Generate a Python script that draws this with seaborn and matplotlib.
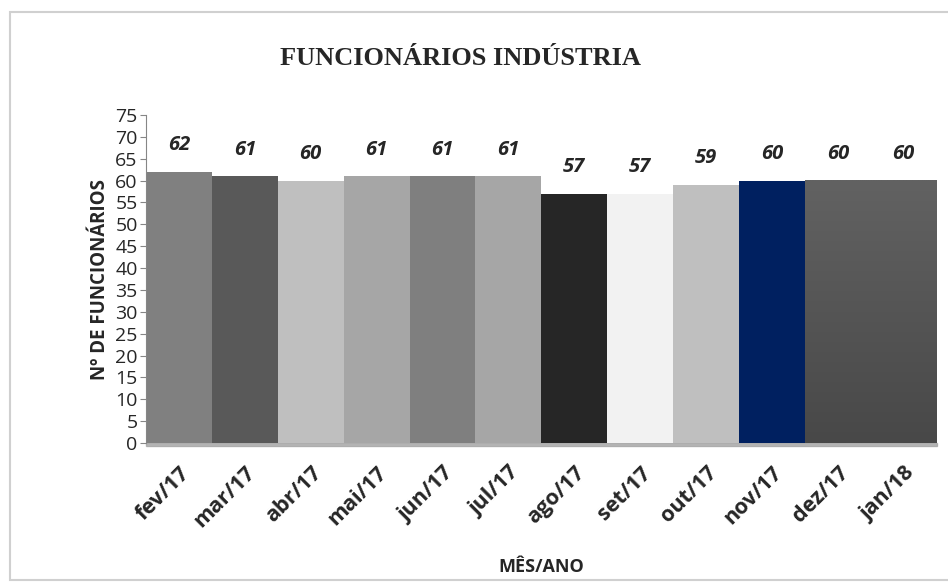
import numpy as np
import pandas as pd
import matplotlib
matplotlib.use("Agg")
import matplotlib.pyplot as plt
from matplotlib.colors import LinearSegmentedColormap
from matplotlib.patches import Rectangle
import seaborn as sns

months = ["fev/17", "mar/17", "abr/17", "mai/17", "jun/17", "jul/17",
          "ago/17", "set/17", "out/17", "nov/17", "dez/17", "jan/18"]
employees = [62, 61, 60, 61, 61, 61, 57, 57, 59, 60, 60, 60]
bar_colors = ["#808080", "#595959", "#bfbfbf", "#a6a6a6", "#7f7f7f", "#a6a6a6",
              "#262626", "#f2f2f2", "#bfbfbf", "#002060", "#575757", "#575757"]
gradient_months = ["dez/17", "jan/18"]

df = pd.DataFrame({"mes": months, "func": employees})

sns.set_style("white")
plt.rcParams["font.family"] = ["Open Sans", "DejaVu Sans"]

fig = plt.figure(figsize=(9.48, 5.88), dpi=100)
# light frame around the chart area
fig.patches.append(Rectangle((0.0105, 0.014), 1.0, 0.966, transform=fig.transFigure,
                             facecolor="white", edgecolor="#d0d0d0", linewidth=1.5,
                             zorder=-1))
ax = fig.add_axes([0.154, 0.2466, 0.834, 0.5578])
ax.patch.set_alpha(0)

sns.barplot(data=df, x="mes", y="func", hue="mes", palette=bar_colors,
            width=1.0, legend=False, ax=ax, saturation=1, linewidth=0)

# gradient fill on the last two bars
cmap = LinearSegmentedColormap.from_list("g", ["#484848", "#626262"])
grad = np.linspace(0, 1, 256).reshape(-1, 1)
for p, m in zip(ax.patches, months):
    p.set_linewidth(0)
    if m in gradient_months:
        x0, w, h = p.get_x(), p.get_width(), p.get_height()
        ax.imshow(grad, extent=[x0, x0 + w, 0, h], cmap=cmap, origin="lower",
                  aspect="auto", interpolation="bilinear",
                  zorder=p.get_zorder() + 0.1)

# soft shadow under bars
ax.axhspan(-0.8, 0, xmin=0, xmax=1, color="#9a9a9a", alpha=0.7, zorder=0.5,
           clip_on=False)

for i, v in enumerate(employees):
    ax.annotate(str(v), (i, v), xytext=(0, 12), textcoords="offset points",
                ha="center", va="bottom", fontsize=14.5, fontweight="bold",
                fontstyle="italic")

ax.set_xlim(-0.5, len(months) - 0.5)
ax.set_ylim(0, 75)
ax.set_yticks(range(0, 76, 5))
ax.tick_params(axis="y", labelsize=14, length=4, color="#868686", left=True, pad=2)
ax.tick_params(axis="x", length=0, pad=14)
plt.setp(ax.get_xticklabels(), rotation=45, ha="right", rotation_mode="anchor",
         fontsize=15.5, fontweight="bold")

for s in ["top", "right", "bottom"]:
    ax.spines[s].set_visible(False)
ax.spines["left"].set_color("#868686")

ax.set_ylabel("Nº DE FUNCIONÁRIOS", fontsize=13.5, fontweight="bold", labelpad=4)
ax.set_xlabel("MÊS/ANO", fontsize=13, fontweight="bold", labelpad=19)
fig.text(0.486, 0.901, "FUNCIONÁRIOS INDÚSTRIA", ha="center", va="center",
         fontsize=19, fontweight="bold", family="Liberation Serif")

fig.savefig("out.png", dpi=100)
